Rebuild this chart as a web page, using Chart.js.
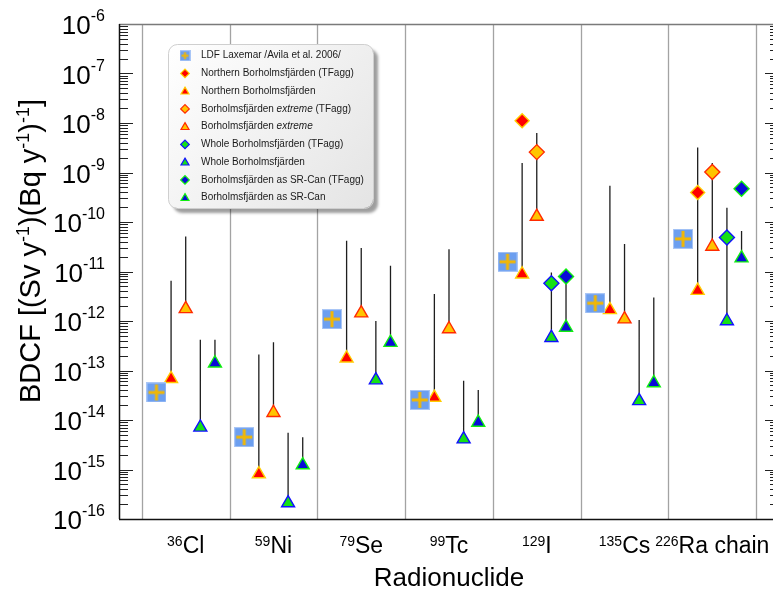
<!DOCTYPE html>
<html><head><meta charset="utf-8">
<script src="https://cdn.jsdelivr.net/npm/chart.js@4"></script>
<style>
html,body{margin:0;padding:0;overflow:hidden;background:#fff}
#wrap{position:absolute;left:0;top:0;width:790px;height:592px}
</style>
</head><body><div id="wrap"><canvas id="c"></canvas></div>
<script>
// ---------- data ----------
const categories   = ['36Cl','59Ni','79Se','99Tc','129I','135Cs','226Ra chain'];
const xTickSup     = ['36','59','79','99','129','135','226'];
const xTickMain    = ['Cl','Ni','Se','Tc','I','Cs','Ra chain'];
const yTickExponents = [-16,-15,-14,-13,-12,-11,-10,-9,-8,-7,-6];
const yTickBase    = '10';
const yTickSup     = ['-16','-15','-14','-13','-12','-11','-10','-9','-8','-7','-6'];

const ldfLaxemar   = [3.6e-14, 4.5e-15, 1.09e-12, 2.55e-14, 1.57e-11, 2.29e-12, 4.57e-11];

const northernTF   = [null, null, null, null, 1.11e-8, null, 3.95e-10];
const northern     = [6.8e-14, 8.1e-16, 1.77e-13, 2.84e-14, 8.8e-12, 1.68e-12, 4.1e-12];
const northernMax  = [6.5e-12, 2.1e-13, 4.2e-11, 3.5e-12, 1.55e-9, 5.4e-10, 3.2e-9];

const extremeTF    = [null, null, null, null, 2.58e-9, null, 1.02e-9];
const extreme      = [1.76e-12, 1.4e-14, 1.44e-12, 6.9e-13, 1.29e-10, 1.09e-12, 3.2e-11];
const extremeMax   = [5.1e-11, 3.7e-13, 2.97e-11, 2.83e-11, 6.26e-9, 3.6e-11, 1.55e-9];

const wholeTF      = [null, null, null, null, 5.8e-12, null, 4.86e-11];
const whole        = [7.1e-15, 2.1e-16, 6.4e-14, 4.1e-15, 4.6e-13, 2.43e-14, 1.0e-12];
const wholeMax     = [4.2e-13, 5.5e-15, 1.0e-12, 6.2e-14, 9.5e-12, 1.05e-12, 1.94e-10];

const srcanTF      = [null, null, null, null, 7.9e-12, null, 4.7e-10];
const srcan        = [1.4e-13, 1.23e-15, 3.66e-13, 8.9e-15, 7.4e-13, 5.6e-14, 1.86e-11];
const srcanMax     = [4.2e-13, 4.5e-15, 1.3e-11, 4.05e-14, 7.9e-12, 3.0e-12, 6.6e-11];

const legendLabels = [
  [['LDF Laxemar /Avila et al. 2006/', false]],
  [['Northern Borholmsfjärden (TFagg)', false]],
  [['Northern Borholmsfjärden', false]],
  [['Borholmsfjärden ', false], ['extreme', true], [' (TFagg)', false]],
  [['Borholmsfjärden ', false], ['extreme', true]],
  [['Whole Borholmsfjärden (TFagg)', false]],
  [['Whole Borholmsfjärden', false]],
  [['Borholmsfjärden as SR-Can (TFagg)', false]],
  [['Borholmsfjärden as SR-Can', false]]
];
const xTitle = 'Radionuclide';
const yTitleParts = [['BDCF [(Sv y',0],['-1',1],[')(Bq y',0],['-1',1],[')',0],['-1',1],[']',0]];

// ---------- styles ----------
const FONT = "'Liberation Sans', Arial, sans-serif";
const SLOT = 1/6;
const RED = '#ff0000', GOLD = '#ffc400', GREEN = '#16e016', BLUE = '#0a0ad8';
const colors = {
  northern: {fill: RED,   stroke: '#ffcc00'},
  extreme:  {fill: GOLD,  stroke: '#ff2a00'},
  whole:    {fill: GREEN, stroke: '#1010ff'},
  srcan:    {fill: BLUE,  stroke: '#10ee10'}
};

function makeLdfIcon(size, bar) {
  const c = document.createElement('canvas');
  c.width = size; c.height = size;
  const g = c.getContext('2d');
  g.fillStyle = '#a9c6f6'; g.fillRect(0,0,size,size);
  g.fillStyle = '#6c9ff0'; g.fillRect(1,1,size-2,size-2);
  g.fillStyle = '#f2b705';
  const m = (size - bar)/2;
  g.fillRect(2, m, size-4, bar);
  g.fillRect(m, 2, bar, size-4);
  return c;
}
const ldfIcon = makeLdfIcon(20, 3);
const ldfIconSmall = makeLdfIcon(11, 2);

function pts(arr, slot) {
  return arr.map((v, i) => ({x: i + slot * SLOT, y: v})).filter(p => p.y !== null);
}
function segs(lo, hi, slot) {
  const out = [];
  lo.forEach((v, i) => {
    const x = i + slot * SLOT;
    out.push({x: x, y: v}, {x: x, y: hi[i]}, {x: x, y: null});
  });
  return out;
}
function lineDs(lo, hi, slot) {
  return {type: 'line', data: segs(lo, hi, slot), showLine: true, spanGaps: false,
    borderColor: '#1e1e1e', borderWidth: 1.3, pointRadius: 0, order: 10};
}
function markDs(arr, slot, style, c, r) {
  return {type: 'scatter', data: pts(arr, slot), pointStyle: style, pointRadius: r,
    pointBackgroundColor: c.fill, pointBorderColor: c.stroke, pointBorderWidth: 1.4, order: 1};
}

const datasets = [
  lineDs(northern, northernMax, -1),
  lineDs(extreme, extremeMax, 0),
  lineDs(whole, wholeMax, 1),
  lineDs(srcan, srcanMax, 2),
  {type: 'scatter', data: pts(ldfLaxemar, -2), pointStyle: ldfIcon, pointRadius: 10, order: 1},
  markDs(northern, -1, 'triangle', colors.northern, 7.5),
  markDs(extreme, 0, 'triangle', colors.extreme, 7.5),
  markDs(whole, 1, 'triangle', colors.whole, 7.5),
  markDs(srcan, 2, 'triangle', colors.srcan, 7.5),
  markDs(northernTF, -1, 'rectRot', colors.northern, 7),
  markDs(extremeTF, 0, 'rectRot', colors.extreme, 7.5),
  markDs(wholeTF, 1, 'rectRot', colors.whole, 7.5),
  markDs(srcanTF, 2, 'rectRot', colors.srcan, 7.5)
];

// ---------- helper drawing ----------
function triPath(ctx, x, y, r) {
  ctx.beginPath();
  ctx.moveTo(x, y - r);
  ctx.lineTo(x + r * 0.866, y + r / 2);
  ctx.lineTo(x - r * 0.866, y + r / 2);
  ctx.closePath();
}
function diaPath(ctx, x, y, r) {
  ctx.beginPath();
  ctx.moveTo(x - r, y); ctx.lineTo(x, y - r); ctx.lineTo(x + r, y); ctx.lineTo(x, y + r);
  ctx.closePath();
}

const framePlugin = {
  id: 'frame',
  beforeDatasetsDraw(chart) {
    const {ctx, chartArea: a, scales} = chart;
    const xs = scales.x, ys = scales.y;
    ctx.save();
    ctx.strokeStyle = '#a3a3a3'; ctx.lineWidth = 1.3;
    for (let k = 0; k <= categories.length; k++) {
      const px = Math.round(xs.getPixelForValue(k - 0.5)) + 0.5;
      ctx.beginPath(); ctx.moveTo(px, a.top); ctx.lineTo(px, a.bottom); ctx.stroke();
    }
    ctx.strokeStyle = '#7a7a7a'; ctx.lineWidth = 1.3;
    ctx.beginPath(); ctx.moveTo(a.left, a.top + 0.5); ctx.lineTo(a.right, a.top + 0.5); ctx.stroke();
    ctx.strokeStyle = '#222'; ctx.lineWidth = 1;
    for (let e = -16; e < -6; e++) {
      for (let m = 1; m <= 9; m++) {
        const py = Math.round(ys.getPixelForValue(m * Math.pow(10, e))) + 0.5;
        const len = m === 1 ? 14 : 9;
        ctx.beginPath();
        ctx.moveTo(a.left, py); ctx.lineTo(a.left + len, py);
        ctx.moveTo(a.right, py); ctx.lineTo(a.right - len, py);
        ctx.stroke();
      }
    }
    ctx.strokeStyle = '#111'; ctx.lineWidth = 1.5;
    ctx.beginPath();
    ctx.moveTo(a.left + 0.5, a.top); ctx.lineTo(a.left + 0.5, a.bottom);
    ctx.moveTo(a.right - 0.5, a.top); ctx.lineTo(a.right - 0.5, a.bottom);
    ctx.moveTo(a.left, a.bottom + 0.5); ctx.lineTo(a.right, a.bottom + 0.5);
    ctx.stroke();
    ctx.restore();
  }
};

// tick labels with true superscripts, positioned by the chart's scales
const tickLabelPlugin = {
  id: 'tickLabels',
  afterDraw(chart) {
    const {ctx, chartArea: a, scales} = chart;
    ctx.save();
    ctx.fillStyle = '#000'; ctx.textBaseline = 'alphabetic'; ctx.textAlign = 'left';
    // y ticks
    yTickExponents.forEach((e, i) => {
      const py = scales.y.getPixelForValue(Math.pow(10, e));
      ctx.font = '16px ' + FONT;
      const ws = ctx.measureText(yTickSup[i]).width;
      ctx.font = '26px ' + FONT;
      const wb = ctx.measureText(yTickBase).width;
      const right = a.left - 14;
      const base = py + 10;
      ctx.fillText(yTickBase, right - ws - wb, base);
      ctx.font = '16px ' + FONT;
      ctx.fillText(yTickSup[i], right - ws, base - 13);
    });
    // x ticks
    categories.forEach((c, i) => {
      const px = scales.x.getPixelForValue(i);
      ctx.font = '14px ' + FONT;
      const ws = ctx.measureText(xTickSup[i]).width;
      ctx.font = '23px ' + FONT;
      const wm = ctx.measureText(xTickMain[i]).width;
      const left = px - (ws + wm) / 2;
      const base = a.bottom + 34;
      ctx.font = '14px ' + FONT;
      ctx.fillText(xTickSup[i], left, base - 7);
      ctx.font = '23px ' + FONT;
      ctx.fillText(xTickMain[i], left + ws, base);
    });
    ctx.restore();
  }
};

const legendPlugin = {
  id: 'customLegend',
  afterDraw(chart) {
    const ctx = chart.ctx;
    const bx = 168, by = 44, bw = 205, bh = 164, rad = 9;
    ctx.save();
    ctx.shadowColor = 'rgba(0,0,0,0.38)';
    ctx.shadowOffsetX = 5; ctx.shadowOffsetY = 5; ctx.shadowBlur = 3;
    const gr = ctx.createLinearGradient(bx, by, bx + bw, by + bh);
    gr.addColorStop(0, '#ffffff'); gr.addColorStop(1, '#e4e4e4');
    ctx.fillStyle = gr;
    ctx.beginPath(); ctx.roundRect(bx, by, bw, bh, rad); ctx.fill();
    ctx.shadowColor = 'transparent';
    ctx.strokeStyle = '#cfcfcf'; ctx.lineWidth = 1;
    ctx.beginPath(); ctx.roundRect(bx + 0.5, by + 0.5, bw, bh, rad); ctx.stroke();

    const styles = [
      ['ldf'], ['dia', colors.northern], ['tri', colors.northern],
      ['dia', colors.extreme], ['tri', colors.extreme],
      ['dia', colors.whole], ['tri', colors.whole],
      ['dia', colors.srcan], ['tri', colors.srcan]
    ];
    const ix = 185, tx = 201, y0 = 55.7, dy = 17.75;
    legendLabels.forEach((parts, i) => {
      const y = y0 + dy * i;
      const st = styles[i];
      if (st[0] === 'ldf') {
        ctx.drawImage(ldfIconSmall, ix - 5.5, y - 5.5);
      } else {
        ctx.fillStyle = st[1].fill; ctx.strokeStyle = st[1].stroke; ctx.lineWidth = 1.2;
        if (st[0] === 'tri') triPath(ctx, ix, y + 0.5, 4.6); else diaPath(ctx, ix, y, 4.3);
        ctx.fill(); ctx.stroke();
      }
      let x = tx;
      ctx.fillStyle = '#1a1a1a'; ctx.textBaseline = 'middle'; ctx.textAlign = 'left';
      parts.forEach(([t, it]) => {
        ctx.font = (it ? 'italic ' : '') + '10px ' + FONT;
        ctx.fillText(t, x, y);
        x += ctx.measureText(t).width;
      });
    });
    ctx.restore();
  }
};

const yTitlePlugin = {
  id: 'yTitle',
  afterDraw(chart) {
    const ctx = chart.ctx;
    ctx.save();
    ctx.fillStyle = '#000';
    ctx.textBaseline = 'alphabetic'; ctx.textAlign = 'left';
    let total = 0;
    yTitleParts.forEach(([t, s]) => {
      ctx.font = (s ? '18px ' : '29px ') + FONT;
      total += ctx.measureText(t).width;
    });
    const cx = 40, cy = 251;
    ctx.translate(cx, cy); ctx.rotate(-Math.PI / 2);
    let x = -total / 2;
    yTitleParts.forEach(([t, s]) => {
      ctx.font = (s ? '18px ' : '29px ') + FONT;
      ctx.fillText(t, x, s ? -11 : 0);
      x += ctx.measureText(t).width;
    });
    ctx.restore();
  }
};

new Chart(document.getElementById('c'), {
  type: 'scatter',
  data: {datasets},
  plugins: [framePlugin, tickLabelPlugin, legendPlugin, yTitlePlugin],
  options: {
    responsive: true, maintainAspectRatio: false, animation: false,
    layout: {padding: {top: 24, right: 11, left: 0, bottom: 0}},
    plugins: {legend: {display: false}, tooltip: {enabled: false}},
    scales: {
      x: {
        type: 'linear', min: -0.76, max: 6.76,
        grid: {display: false, drawTicks: false}, border: {display: false},
        afterBuildTicks(s) { s.ticks = categories.map((c, i) => ({value: i})); },
        afterFit(s) { s.height = 73; },
        ticks: {display: false},
        title: {display: true, text: xTitle, color: '#000',
          font: {family: FONT, size: 26, lineHeight: 1.0}, padding: {top: 0, bottom: 0}}
      },
      y: {
        type: 'logarithmic', min: 1e-16, max: 1e-6,
        grid: {display: false, drawTicks: false}, border: {display: false},
        afterBuildTicks(s) { s.ticks = yTickExponents.map(e => ({value: Math.pow(10, e)})); },
        afterFit(s) { s.width = 119; },
        ticks: {display: false}
      }
    }
  }
});
</script>
</body></html>
